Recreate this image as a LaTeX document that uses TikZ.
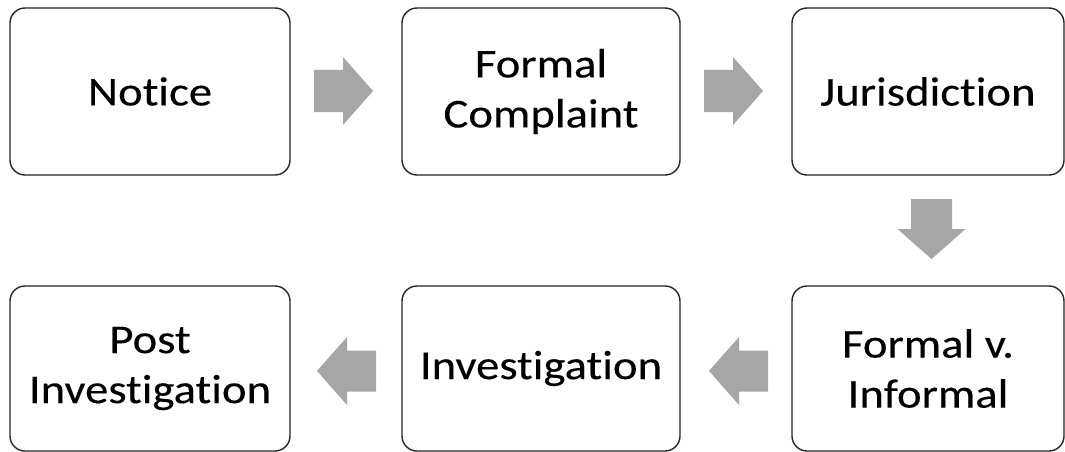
\documentclass[tikz,border=0pt]{standalone}
\usepackage{fontspec}
\setmainfont[Ligatures=NoCommon,FakeBold=0.2]{Carlito}
\usepackage{graphicx}
\newcommand{\wide}[1]{\scalebox{1.14}[1]{#1}}
\begin{document}
\begin{tikzpicture}[x=1pt,y=-1pt,
  stepbox/.style={draw=black!85,line width=1.4pt,rounded corners=15pt,fill=white,
    inner sep=0pt,align=center,font=\fontsize{41}{50}\selectfont},
  blockarrow/.style={fill=black!35,draw=none}]
\useasboundingbox (0,0) rectangle (1065,452);
\node[stepbox,minimum width=280pt,minimum height=167pt] (A) at (150,91.5) {\wide{Notice}};
\node[stepbox,minimum width=278pt,minimum height=167pt] (B) at (541,91.5) {\wide{Formal}\\\wide{Complaint}};
\node[stepbox,minimum width=272pt,minimum height=167pt] (C) at (928,91.5) {\wide{Jurisdiction}};
\node[stepbox,minimum width=272pt,minimum height=165pt] (D) at (928,368.5) {\wide{Formal v.}\\\wide{Informal}};
\node[stepbox,minimum width=278pt,minimum height=165pt] (E) at (541,368.5) {\wide{Investigation}};
\node[stepbox,minimum width=280pt,minimum height=165pt] (F) at (150,368.5) {\wide{Post}\\\wide{Investigation}};
% right-pointing block arrows (start at shaft tail centre)
\coordinate (ab) at (314,91);
\coordinate (bc) at (704,91);
\foreach \c in {ab,bc}
  \fill[blockarrow] (\c) ++(0,-21) -- ++(29,0) -- ++(0,-13) -- ++(30,34) -- ++(-30,34) -- ++(0,-13) -- ++(-29,0) -- cycle;
% down-pointing block arrow
\coordinate (cd) at (931.5,199);
\fill[blockarrow] (cd) ++(-20.5,0) -- ++(41,0) -- ++(0,30) -- ++(13.5,0) -- ++(-34,30) -- ++(-34,-30) -- ++(13.5,0) -- cycle;
% left-pointing block arrows
\coordinate (de) at (768,371);
\coordinate (ef) at (376,371);
\foreach \c in {de,ef}
  \fill[blockarrow] (\c) ++(0,-20.5) -- ++(-29,0) -- ++(0,-13.5) -- ++(-30,34) -- ++(30,34) -- ++(0,-13.5) -- ++(29,0) -- cycle;
\end{tikzpicture}
\end{document}
